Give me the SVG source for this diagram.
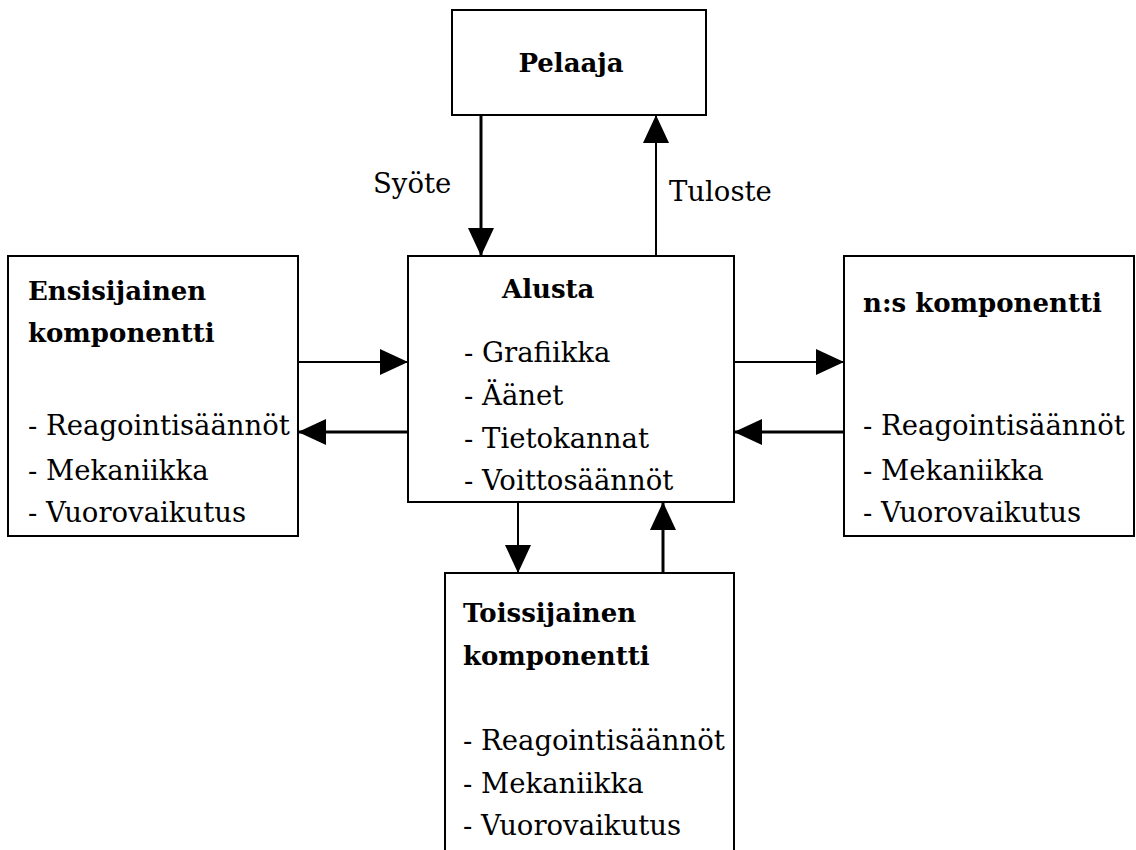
<svg xmlns="http://www.w3.org/2000/svg" width="1136" height="850" viewBox="0 0 1136 850">
<defs>
<style>
.box{fill:#fff;stroke:#000;stroke-width:2}
.t{font-family:"DejaVu Serif","Liberation Serif",serif;font-size:27.5px;fill:#000}
.b{font-family:"DejaVu Serif","Liberation Serif",serif;font-size:26px;font-weight:bold;fill:#000}
.c{stroke:#000;fill:none}
.w2{stroke-width:2}
.w3{stroke-width:3}
</style>
<marker id="ah" viewBox="0 0 28 26" markerWidth="28" markerHeight="26" refX="28" refY="13" orient="auto" markerUnits="userSpaceOnUse">
<path d="M0,0 L28,13 L0,26 z" fill="#000"/>
</marker>
</defs>
<rect width="1136" height="850" fill="#fff"/>
<g id="connectors">
<line class="c w3" x1="481" y1="115" x2="481" y2="256" marker-end="url(#ah)"/>
<line class="c w2" x1="656" y1="256" x2="656" y2="115" marker-end="url(#ah)"/>
<line class="c w2" x1="298" y1="362" x2="408" y2="362" marker-end="url(#ah)"/>
<line class="c w3" x1="408" y1="432" x2="298" y2="432" marker-end="url(#ah)"/>
<line class="c w2" x1="734" y1="362" x2="844" y2="362" marker-end="url(#ah)"/>
<line class="c w3" x1="844" y1="432" x2="734" y2="432" marker-end="url(#ah)"/>
<line class="c w2" x1="518" y1="502" x2="518" y2="573" marker-end="url(#ah)"/>
<line class="c w3" x1="663" y1="573" x2="663" y2="502" marker-end="url(#ah)"/>
<text class="t" x="373" y="193">Syöte</text>
<text class="t" x="669" y="201">Tuloste</text>
</g>
<g id="pelaaja">
<rect class="box" x="452" y="10" width="254" height="105"/>
<text class="b" x="571" y="72" text-anchor="middle">Pelaaja</text>
</g>
<g id="alusta">
<rect class="box" x="408" y="256" width="326" height="246"/>
<text class="b" x="502" y="298">Alusta</text>
<text class="t" x="464" y="362">- Grafiikka</text>
<text class="t" x="464" y="405">- Äänet</text>
<text class="t" x="464" y="448">- Tietokannat</text>
<text class="t" x="464" y="490">- Voittosäännöt</text>
</g>
<g id="ensisijainen">
<rect class="box" x="8" y="256" width="290" height="280"/>
<text class="b" x="28" y="300">Ensisijainen</text>
<text class="b" x="28" y="342">komponentti</text>
<text class="t" x="28" y="435">- Reagointisäännöt</text>
<text class="t" x="28" y="480">- Mekaniikka</text>
<text class="t" x="28" y="522">- Vuorovaikutus</text>
</g>
<g id="ns">
<rect class="box" x="844" y="256" width="290" height="280"/>
<text class="b" x="863" y="312">n:s komponentti</text>
<text class="t" x="863" y="435">- Reagointisäännöt</text>
<text class="t" x="863" y="480">- Mekaniikka</text>
<text class="t" x="863" y="522">- Vuorovaikutus</text>
</g>
<g id="toissijainen">
<rect class="box" x="445" y="573" width="289" height="290"/>
<text class="b" x="463" y="622">Toissijainen</text>
<text class="b" x="463" y="665">komponentti</text>
<text class="t" x="463" y="750">- Reagointisäännöt</text>
<text class="t" x="463" y="793">- Mekaniikka</text>
<text class="t" x="463" y="835">- Vuorovaikutus</text>
</g>
</svg>
